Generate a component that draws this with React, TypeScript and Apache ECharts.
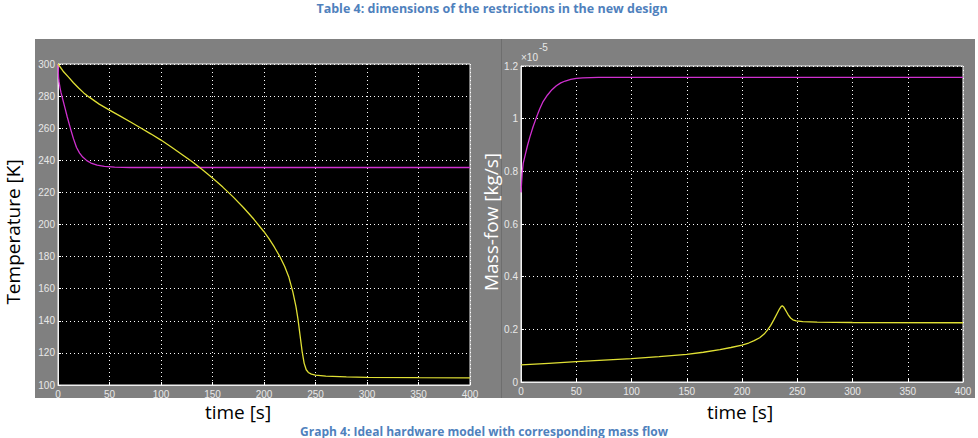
import React, { useEffect, useRef } from "react";
import * as echarts from "echarts";

// ---- Left plot: temperature [K] vs time [s]
const tempTimeYellow = [0, 5, 10, 15, 20, 25, 30, 40, 50, 60, 70, 80, 90, 100, 110, 120, 130, 140, 150, 160, 170, 180, 190, 200, 205, 210, 215, 220, 224, 228, 231, 233, 235, 237, 239, 241, 243, 246, 250, 260, 280, 300, 350, 400];
const tempYellow = [300, 295.5, 292, 288.3, 285, 282, 279.5, 275, 271.3, 267.7, 264, 260.3, 256.5, 252.6, 248.3, 243.8, 239.2, 234.2, 229, 223.3, 217.2, 210.6, 203.4, 195.5, 191, 186, 180.5, 174, 167.5, 158, 149, 141, 131, 121, 113.5, 109.5, 107.8, 106.8, 106.2, 105.5, 105, 104.8, 104.6, 104.5];
const tempTimeMagenta = [0, 0.5, 1, 2, 3, 5, 7, 9, 12, 15, 18, 21, 24, 28, 32, 38, 45, 55, 70, 400];
const tempMagenta = [300, 292, 289, 285, 282, 277, 272, 267, 260, 253.5, 248, 244.5, 242, 239.8, 238.3, 237, 236.2, 235.7, 235.5, 235.5];

// ---- Right plot: mass flow [kg/s] (x 1e-5) vs time [s]
const flowTimeMagenta = [0, 1, 2, 4, 6, 8, 11, 14, 17, 20, 24, 28, 32, 36, 40, 45, 50, 56, 70, 400];
const flowMagenta = [0.72, 0.79, 0.83, 0.865, 0.9, 0.93, 0.97, 1.005, 1.038, 1.065, 1.09, 1.11, 1.125, 1.136, 1.143, 1.149, 1.153, 1.155, 1.157, 1.157];
const flowTimeYellow = [0, 25, 50, 75, 100, 125, 150, 165, 180, 190, 200, 206, 211, 216, 220, 223, 226, 229, 232, 234, 235.5, 236.5, 237.5, 239, 240.5, 242, 244, 246, 249, 255, 268, 300, 400];
const flowYellow = [0.065, 0.071, 0.077, 0.083, 0.089, 0.096, 0.105, 0.113, 0.123, 0.131, 0.14, 0.148, 0.157, 0.168, 0.182, 0.197, 0.215, 0.238, 0.262, 0.278, 0.287, 0.289, 0.286, 0.276, 0.265, 0.254, 0.243, 0.236, 0.232, 0.229, 0.227, 0.226, 0.225];

const title = "Table 4: dimensions of the restrictions in the new design";
const caption = "Graph 4: Ideal hardware model with corresponding mass flow";
const xName = "time [s]";
const yNameLeft = "Temperature [K]";
const yNameRight = "Mass-fow [kg/s]";

const pairs = (xs: number[], ys: number[]) => xs.map((x, i) => [x, ys[i]]);

const YELLOW = "#e0e034";
const MAGENTA = "#d030d0";
const GRAY = "#808080";

export default function App() {
  const ref = useRef<HTMLDivElement>(null);
  useEffect(() => {
    document.body.style.margin = "0";
    const chart = echarts.init(ref.current!, null, { renderer: "svg" });
    const axisLabel = { color: "#e8e8e8", fontSize: 10, fontFamily: "Liberation Sans" };
    const splitLine = { show: true, lineStyle: { color: "#ffffff", type: [1, 3] as any, width: 1 } };
    const axisLine = { show: true, lineStyle: { color: "#f0f0f0", width: 1 } };
    const axisTick = { show: true, inside: true, length: 3, lineStyle: { color: "#ffffff" } };
    const xAxisBase = {
      type: "value" as const,
      min: 0,
      max: 400,
      interval: 50,
      axisLabel: { ...axisLabel, margin: 4 },
      splitLine,
      axisLine,
      axisTick,
    };
    const lineSeries = (xi: number, data: number[][], color: string, z: number) => ({
      type: "line",
      xAxisIndex: xi,
      yAxisIndex: xi,
      data,
      showSymbol: false,
      lineStyle: { color, width: 1.3 },
      z,
    });
    chart.setOption({
      animation: false,
      grid: [
        { left: 58, top: 64, width: 412, height: 321, show: true, backgroundColor: "#000", borderColor: "#f0f0f0", borderWidth: 1 },
        { left: 521, top: 66, width: 442, height: 316, show: true, backgroundColor: "#000", borderColor: "#f0f0f0", borderWidth: 1 },
      ],
      xAxis: [
        { ...xAxisBase, gridIndex: 0 },
        { ...xAxisBase, gridIndex: 1 },
      ],
      yAxis: [
        {
          gridIndex: 0, type: "value", min: 100, max: 300, interval: 20,
          axisLabel: { ...axisLabel, margin: 3 }, splitLine, axisLine, axisTick,
        },
        {
          gridIndex: 1, type: "value", min: 0, max: 1.2, interval: 0.2,
          axisLabel: { ...axisLabel, margin: 3, formatter: (v: number) => String(+v.toFixed(1)) },
          splitLine, axisLine, axisTick,
        },
      ],
      series: [
        lineSeries(0, pairs(tempTimeMagenta, tempMagenta), MAGENTA, 3),
        lineSeries(0, pairs(tempTimeYellow, tempYellow), YELLOW, 4),
        lineSeries(1, pairs(flowTimeMagenta, flowMagenta), MAGENTA, 3),
        lineSeries(1, pairs(flowTimeYellow, flowYellow), YELLOW, 4),
      ],
      graphic: [
        { type: "rect", z: -10, silent: true, shape: { x: 35, y: 39, width: 443, height: 359 }, style: { fill: GRAY } },
        { type: "rect", z: -10, silent: true, shape: { x: 478, y: 39, width: 497, height: 359 }, style: { fill: GRAY } },
        { type: "rect", z: -9, silent: true, shape: { x: 501, y: 39, width: 1, height: 359 }, style: { fill: "#6e6e6e" } },
        {
          type: "text", z: 10, x: 492, y: 8,
          style: { text: title, fill: "#4f81bd", font: "bold 12.5px 'Open Sans'", align: "center", verticalAlign: "middle" },
        },
        {
          type: "text", z: 10, x: 238, y: 412,
          style: { text: xName, fill: "#000", font: "19px 'Open Sans'", align: "center", verticalAlign: "middle" },
        },
        {
          type: "text", z: 10, x: 740, y: 412,
          style: { text: xName, fill: "#000", font: "19px 'Open Sans'", align: "center", verticalAlign: "middle" },
        },
        {
          type: "text", z: 10, x: 13, y: 232, rotation: Math.PI / 2,
          style: { text: yNameLeft, fill: "#000", font: "19px 'Open Sans'", align: "center", verticalAlign: "middle" },
        },
        {
          type: "text", z: 10, x: 491, y: 222, rotation: Math.PI / 2,
          style: { text: yNameRight, fill: "#ffffff", font: "19px 'Open Sans'", align: "center", verticalAlign: "middle" },
        },
        {
          type: "text", z: 10, x: 521, y: 57,
          style: { text: "×10", fill: "#e8e8e8", font: "10px 'Liberation Sans'", align: "left", verticalAlign: "middle" },
        },
        {
          type: "text", z: 10, x: 539, y: 47,
          style: { text: "-5", fill: "#e8e8e8", font: "10px 'Liberation Sans'", align: "left", verticalAlign: "middle" },
        },
        {
          type: "text", z: 10, x: 484, y: 431,
          style: { text: caption, fill: "#4f81bd", font: "bold 12px 'Open Sans'", align: "center", verticalAlign: "middle" },
        },
      ],
    });
    return () => chart.dispose();
  }, []);
  return <div ref={ref} style={{ width: 978, height: 438 }} />;
}
